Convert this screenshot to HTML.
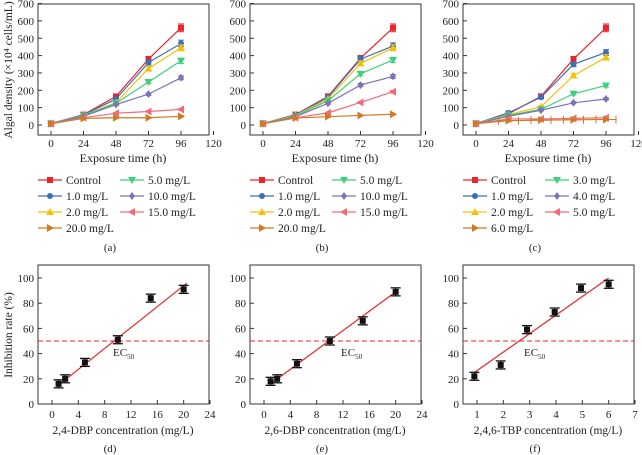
<!DOCTYPE html>
<html><head><meta charset="utf-8"><style>
body{margin:0;background:#fff}
svg{display:block;font-family:"Liberation Serif",serif}
</style></head><body>
<svg id="c" width="642" height="455" viewBox="0 0 642 455" xmlns="http://www.w3.org/2000/svg"></svg>
<script>
const times=[0,24,48,72,96];
const xTicksTop=[0,24,48,72,96,120];
const yTicksTop=[0,100,200,300,400,500,600,700];
const labelsA=["Control","1.0 mg/L","2.0 mg/L","5.0 mg/L","10.0 mg/L","15.0 mg/L","20.0 mg/L"];
const labelsC=["Control","1.0 mg/L","2.0 mg/L","3.0 mg/L","4.0 mg/L","5.0 mg/L","6.0 mg/L"];
const aControl=[8,60,165,380,560],a1=[8,58,150,360,470],a2=[8,55,130,325,445],a5=[8,55,125,248,370],a10=[8,50,118,178,272],a15=[8,42,68,78,90],a20=[8,38,42,42,50];
const bControl=[8,60,165,385,560],b1=[8,58,160,380,455],b2=[8,55,150,355,445],b5=[8,52,140,295,375],b10=[8,48,125,230,280],b15=[8,42,70,130,192],b20=[8,40,48,55,62];
const cControl=[8,65,165,380,560],c1=[8,70,160,350,418],c2=[8,60,105,285,390],c3=[8,55,90,180,228],c4=[8,50,85,128,150],c5=[8,35,35,38,42],c6=[8,25,28,30,32];
const dConc=[1,2,5,10,15,20],dInh=[16,20,33,51,84,91],dFit=[[1,15],[20.5,96]];
const eConc=[1,2,5,10,15,20],eInh=[18,20,32,50,66,89],eFit=[[1,16],[20,89]];
const fConc=[0.9,1.9,2.9,3.95,4.95,6],fInh=[22,31,59,73,92,95],fFit=[[0.9,25],[6,100]];
const xTicksDE=[0,4,8,12,16,20,24],xTicksF=[1,2,3,4,5,6,7],yTicksBot=[0,20,40,60,80,100];

const colors=["#e8262a","#3b6fb6","#f5c010","#3fcf7a","#7c74b8","#f46a78","#d07a26"];
const shapes=["sq","ci","tu","td","di","tl","tr"];
const S=document.getElementById('c');const NS="http://www.w3.org/2000/svg";
function el(t,a,p){const e=document.createElementNS(NS,t);for(const k in a)e.setAttribute(k,a[k]);(p||S).appendChild(e);return e;}
function txt(x,y,s,a,p){const e=el('text',Object.assign({x:x,y:y,'font-size':11,fill:'#222','text-anchor':'middle'},a||{}),p);e.textContent=s;return e;}
function marker(g,sh,x,y,c){let e;const r=3;
 if(sh=="sq")e=el('rect',{x:x-r,y:y-r,width:2*r,height:2*r,fill:c},g);
 else if(sh=="ci")e=el('circle',{cx:x,cy:y,r:r,fill:c},g);
 else{let p;if(sh=="tu")p=[[x,y-r-1],[x-r-1,y+r],[x+r+1,y+r]];if(sh=="td")p=[[x,y+r+1],[x-r-1,y-r],[x+r+1,y-r]];if(sh=="di")p=[[x,y-r-1],[x+r,y],[x,y+r+1],[x-r,y]];if(sh=="tl")p=[[x-r-1,y],[x+r,y-r-1],[x+r,y+r+1]];if(sh=="tr")p=[[x+r+1,y],[x-r,y-r-1],[x-r,y+r+1]];
 e=el('polygon',{points:p.map(q=>q.join(',')).join(' '),fill:c},g);}
 }

function topPanel(ox,series,labels,tag,wide){
 const g=el('g',{transform:`translate(${ox},0)`});
 
 const X=v=>51+v*130/96, Y=v=>125-v*0.1735;
 const fr=el('rect',{x:38,y:4,width:171,height:131,fill:'none',stroke:'#333','stroke-width':1},g);
 
 xTicksTop.forEach(t=>{el('line',{x1:X(t),x2:X(t),y1:135,y2:131,stroke:'#333'},g);const l=txt(X(t),147,t,{},g);});
 yTicksTop.forEach(t=>{el('line',{x1:38,x2:42,y1:Y(t),y2:Y(t),stroke:'#333'},g);const l=txt(34,Y(t)+4,t,{'text-anchor':'end'},g);});
 const xt=txt(123,162,"Exposure time (h)",{'font-size':12},g);
 series.forEach((s,i)=>{const c=colors[i];
  const pl=el('polyline',{points:s.map((v,j)=>X(times[j])+','+Y(v)).join(' '),fill:'none',stroke:c,'stroke-width':1.2},g);
  
  s.forEach((v,j)=>{const e=Math.max(3,v*0.04);el('line',{x1:X(times[j]),x2:X(times[j]),y1:Y(v-e),y2:Y(v+e),stroke:c},g);
   el('line',{x1:X(times[j])-3,x2:X(times[j])+3,y1:Y(v+e),y2:Y(v+e),stroke:c},g);el('line',{x1:X(times[j])-3,x2:X(times[j])+3,y1:Y(v-e),y2:Y(v-e),stroke:c},g);
   if(wide&&i==6&&j>0){const w=10;el('line',{x1:X(times[j])-w,x2:X(times[j])+w,y1:Y(v),y2:Y(v),stroke:c},g);el('line',{x1:X(times[j])+w,x2:X(times[j])+w,y1:Y(v)-4,y2:Y(v)+4,stroke:c},g);el('line',{x1:X(times[j])-w,x2:X(times[j])-w,y1:Y(v)-4,y2:Y(v)+4,stroke:c},g);}
   marker(g,shapes[i],X(times[j]),Y(v),c);});
 });
 const pos=[[0,0],[0,1],[0,2],[1,0],[1,1],[1,2],[0,3]];
 labels.forEach((lb,i)=>{const [col,row]=pos[i];const lx=38+col*82,ly=180+row*16;
  const lg=el('g',{},g);
  el('line',{x1:lx,x2:lx+24,y1:ly,y2:ly,stroke:colors[i],'stroke-width':1.2},lg);marker(lg,shapes[i],lx+12,ly,colors[i]);
  txt(lx+28,ly+4,lb,{'text-anchor':'start','font-size':11.5},lg);});
 const cap=txt(110,251,"("+tag+")",{},g);
 if(ox==0){const yl=txt(0,0,"Algal density (×10⁴ cells/mL)",{transform:'translate(12,70) rotate(-90)','font-size':11.5},g);}
}
topPanel(0,[aControl,a1,a2,a5,a10,a15,a20],labelsA,'a');
topPanel(212,[bControl,b1,b2,b5,b10,b15,b20],labelsA,'b');
topPanel(425,[cControl,c1,c2,c3,c4,c5,c6],labelsC,'c',true);

function botPanel(ox,conc,inh,fit,ticks,x0,x1,xlabel,tag,ec){
 const g=el('g',{transform:`translate(${ox},0)`});
 
 const X=v=>52+(v-x0)*158/(x1-x0), Y=v=>404-v*1.26;
 const fr=el('rect',{x:38,y:265,width:171,height:139,fill:'none',stroke:'#333'},g);
 
 ticks.forEach(t=>{el('line',{x1:X(t),x2:X(t),y1:404,y2:400,stroke:'#333'},g);const l=txt(X(t),418,t,{},g);});
 yTicksBot.forEach(t=>{el('line',{x1:38,x2:42,y1:Y(t),y2:Y(t),stroke:'#333'},g);const l=txt(34,Y(t)+4,t,{'text-anchor':'end'},g);});
 const dl=el('line',{x1:38,x2:209,y1:Y(50),y2:Y(50),stroke:'#e8262a','stroke-dasharray':'5,3'},g);
 const ecT=txt(ec[0],ec[1],"EC",{'text-anchor':'start'},g);
 const sub=el('tspan',{'font-size':7,dy:3},ecT);sub.textContent="50";
 const fl=el('line',{x1:X(fit[0][0]),y1:Y(fit[0][1]),x2:X(fit[1][0]),y2:Y(fit[1][1]),stroke:'#e8262a','stroke-width':1.2},g);
 conc.forEach((c,i)=>{const x=X(c),y=Y(inh[i]);
  el('line',{x1:x,x2:x,y1:y-4,y2:y+4,stroke:'#111'},g);el('line',{x1:x-5,x2:x+5,y1:y-4,y2:y-4,stroke:'#111','stroke-width':1.3},g);el('line',{x1:x-5,x2:x+5,y1:y+4,y2:y+4,stroke:'#111','stroke-width':1.3},g);
  const m=el('rect',{x:x-3,y:y-3,width:6,height:6,fill:'#111'},g);});
 const xt=txt(123,434,xlabel,{'font-size':11.5},g);
 const cap=txt(110,452,"("+tag+")",{},g);
 if(ox==0){const yl=txt(0,0,"Inhibition rate (%)",{transform:'translate(12,335) rotate(-90)','font-size':11.5},g);}
}
botPanel(0,dConc,dInh,dFit,xTicksDE,0,24,"2,4-DBP concentration (mg/L)",'d',[113,356]);
botPanel(212,eConc,eInh,eFit,xTicksDE,0,24,"2,6-DBP concentration (mg/L)",'e',[129,356]);
botPanel(425,fConc,fInh,fFit,xTicksF,1,7,"2,4,6-TBP concentration (mg/L)",'f',[99,356]);
</script>
</body></html>
